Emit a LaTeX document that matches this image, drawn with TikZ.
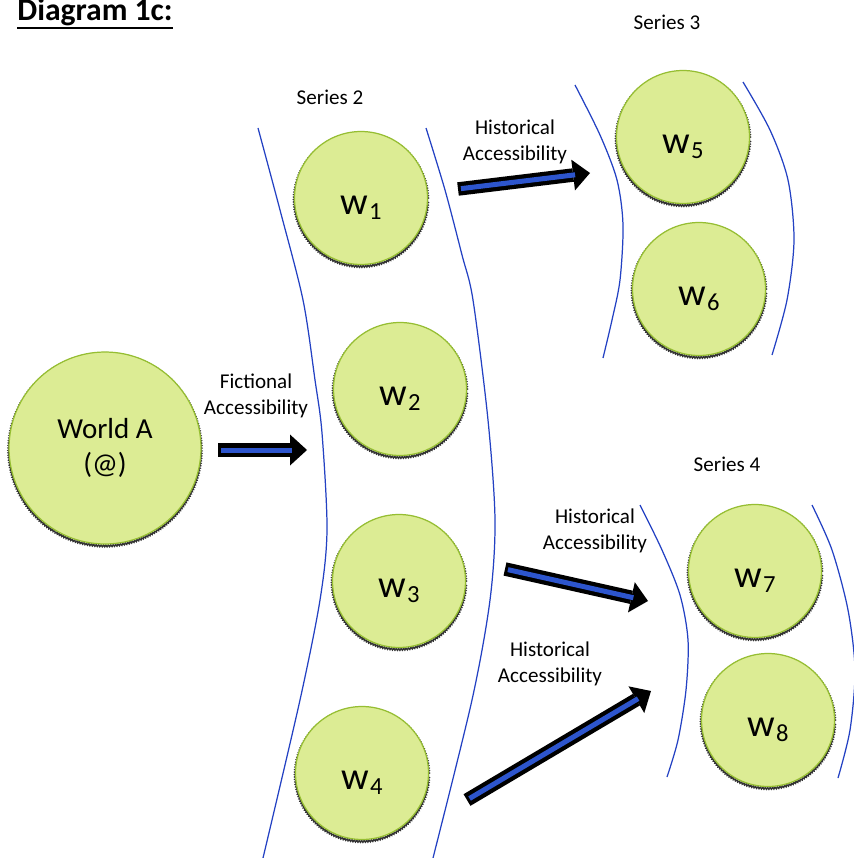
\documentclass[tikz,border=0pt]{standalone}
\usepackage{fontspec}
\setmainfont{Carlito}
\usepackage{tikz}
\usetikzlibrary{arrows.meta}
\usetikzlibrary{decorations.pathmorphing}

\definecolor{worldfill}{RGB}{220,236,148}
\definecolor{worldedge}{RGB}{150,190,50}
\definecolor{seriesblue}{RGB}{35,65,195}
\definecolor{arrowblue}{RGB}{45,85,205}

\newcommand{\wsub}[1]{w\kern0.5pt\raisebox{-2.8pt}{\fontsize{14}{15}\selectfont #1}}

\begin{document}
\begin{tikzpicture}[x=0.02cm, y=-0.02cm,
    world/.style={circle, inner sep=0pt, fill=worldfill, draw=worldedge, line width=0.7pt,
      preaction={draw=black!80, line width=0.8pt, transform canvas={yshift=-1.1pt},
        decorate, decoration={zigzag, amplitude=0.5pt, segment length=1.4pt}}},
    wnode/.style={world, minimum size=2.66cm, font=\fontsize{22}{25}\selectfont,
      text height=0.76cm, text depth=0.1cm},
    seriesline/.style={draw=seriesblue, line width=0.7pt},
    accarrow/.style={line width=0.27cm, -{Triangle[length=0.34cm, width=0.62cm, line width=0pt]},
      postaction={draw=arrowblue, line width=0.1cm, -, shorten >=0.3cm, shorten <=0.06cm}},
    acclabel/.style={align=center, inner sep=0pt, font=\fontsize{12}{14.5}\selectfont},
    serieslabel/.style={inner sep=0pt, font=\fontsize{12}{14}\selectfont}]

  \path[use as bounding box, fill=white] (0,0) rectangle (854,858);

  % title
  \node[anchor=base west, inner sep=0pt, font=\bfseries\fontsize{18}{21}\selectfont] (title) at (17,21) {Diagram 1c:};
  \draw[line width=1.1pt] ([yshift=-0.6pt]title.south west) -- ([yshift=-0.6pt]title.south east);

  % series boundaries
  \draw[seriesline] plot[smooth] coordinates {(258,128) (280,210) (303,300) (315,380) (322,433) (327,530) (320,600) (300,700) (263,858)};
  \draw[seriesline] plot[smooth] coordinates {(426,128) (445,190) (462,255) (473,300) (488,420) (495,520) (490,600) (472,700) (433,858)};
  \draw[seriesline] plot[smooth] coordinates {(575,85) (600,135) (617,180) (623,225) (620,280) (612,320) (603,358)};
  \draw[seriesline] plot[smooth] coordinates {(743,82) (770,130) (788,180) (794,240) (787,300) (772,355)};
  \draw[seriesline] plot[smooth] coordinates {(640,505) (662,550) (680,595) (688,640) (686,690) (678,740) (667,777)};
  \draw[seriesline] plot[smooth] coordinates {(812,505) (832,550) (848,610) (855,670) (850,730) (838,778)};

  % series labels
  \node[serieslabel] (s2) at (330,97) {Series 2};
  \node[serieslabel] (s3) at (667,22) {Series 3};
  \node[serieslabel] (s4) at (727,464) {Series 4};

  % worlds
  \node[world, minimum size=3.84cm, align=center, font=\fontsize{16.5}{19.5}\selectfont] (wa) at (105,448) {World A\\(@)};
  \node[wnode] (w1) at (361,198) {\wsub{1}};
  \node[wnode] (w2) at (400,389) {\wsub{2}};
  \node[wnode] (w3) at (399,581) {\wsub{3}};
  \node[wnode] (w4) at (362,773) {\wsub{4}};
  \node[wnode] (w5) at (683,137) {\wsub{5}};
  \node[wnode] (w6) at (699,289) {\wsub{6}};
  \node[wnode] (w7) at (755,571) {\wsub{7}};
  \node[wnode] (w8) at (768,720) {\wsub{8}};

  % accessibility arrows
  \coordinate (fict-s) at (218,450);
  \coordinate (fict-e) at (307,450);
  \coordinate (hista-s) at (458,189);
  \coordinate (hista-e) at (590,173);
  \coordinate (histb-s) at (505,569);
  \coordinate (histb-e) at (648,601);
  \coordinate (histc-s) at (467,800);
  \coordinate (histc-e) at (651,691);

  \draw[accarrow] (fict-s) -- (fict-e);
  \draw[accarrow] (hista-s) -- (hista-e);
  \draw[accarrow] (histb-s) -- (histb-e);
  \draw[accarrow] (histc-s) -- (histc-e);

  \node[acclabel] (fictlabel) at (256,396) {Fictional\\Accessibility};
  \node[acclabel] (histlabela) at (515,142) {Historical\\Accessibility};
  \node[acclabel] (histlabelb) at (595,531) {Historical\\Accessibility};
  \node[acclabel] (histlabelc) at (550,664) {Historical\\Accessibility};
\end{tikzpicture}
\end{document}
